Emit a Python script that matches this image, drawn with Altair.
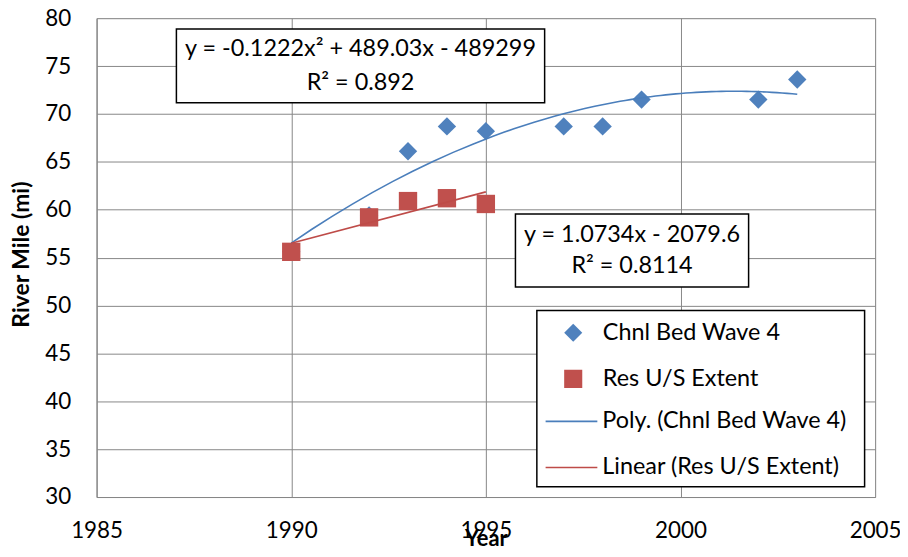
import altair as alt
import pandas as pd

# ---- data ----
wave_years = [1990, 1992, 1993, 1994, 1995, 1997, 1998, 1999, 2002, 2003]
wave_miles = [55.6, 59.4, 66.1, 68.7, 68.2, 68.7, 68.7, 71.5, 71.5, 73.6]
res_years = [1990, 1992, 1993, 1994, 1995]
res_miles = [55.6, 59.2, 60.9, 61.2, 60.6]

point_names = ["Chnl Bed Wave 4", "Res U/S Extent"]
point_colors = ["#4F81BD", "#C0504D"]
point_shapes = ["diamond", "square"]
trend_names = ["Poly. (Chnl Bed Wave 4)", "Linear (Res U/S Extent)"]
trend_colors = ["#4A7EBB", "#BE4B48"]

x_ticks = [1985, 1990, 1995, 2000, 2005]
y_ticks = [30, 35, 40, 45, 50, 55, 60, 65, 70, 75, 80]

poly_label = ["y = -0.1222x\u00b2 + 489.03x - 489299", "R\u00b2 = 0.892"]
linear_label = ["y = 1.0734x - 2079.6", "R\u00b2 = 0.8114"]

# annotation / legend frame anchors (data units)
poly_box = {"x1": 1987.05, "x2": 1996.51, "y1": 71.16, "y2": 78.86}
lin_box = {"x1": 1995.76, "x2": 2001.75, "y1": 51.93, "y2": 59.55}
legend_box = {"x1": 1996.31, "x2": 2004.73, "y1": 31.07, "y2": 49.47}

FONT = "Lato"
GRID = "#878787"
TXT = 23.5

pts = pd.DataFrame({
    "Year": wave_years + res_years,
    "Mile": wave_miles + res_miles,
    "series": [point_names[0]] * len(wave_years) + [point_names[1]] * len(res_years),
})
boxes = pd.DataFrame([poly_box, lin_box, legend_box])
poly_txt = pd.DataFrame([{"x": (poly_box["x1"] + poly_box["x2"]) / 2,
                          "y": (poly_box["y1"] + poly_box["y2"]) / 2}])
lin_txt = pd.DataFrame([{"x": (lin_box["x1"] + lin_box["x2"]) / 2,
                         "y": (lin_box["y1"] + lin_box["y2"]) / 2}])

xs = alt.Scale(domain=[1985, 2005], nice=False, zero=False)
ys = alt.Scale(domain=[30, 80], nice=False, zero=False)

x_axis = alt.Axis(values=x_ticks, format="d", title="Year", grid=True,
                  gridColor=GRID, gridWidth=1, domainColor=GRID, domainWidth=1,
                  ticks=False, labelFont=FONT, labelFontSize=22.5, labelColor="black",
                  labelPadding=23, labelFlush=False, labelOverlap=False,
                  titleFont=FONT, titleFontSize=22, titleFontWeight="bold",
                  titleColor="black", titleY=49, titleBaseline="alphabetic")
y_axis = alt.Axis(values=y_ticks, format="d", title="River Mile (mi)", grid=True,
                  gridColor=GRID, gridWidth=1, domainColor=GRID, domainWidth=1,
                  ticks=False, labelFont=FONT, labelFontSize=22.5, labelColor="black",
                  labelPadding=26, labelFlush=False, labelOverlap=False,
                  titleFont=FONT, titleFontSize=23, titleFontWeight="bold",
                  titleColor="black", titleX=-75, titleY=237, titleAngle=270,
                  titleAlign="center", titleBaseline="middle")

def pt_legend():
    return alt.Legend(title=None, orient="none", legendX=467, legendY=305,
                      direction="vertical", padding=0, rowPadding=22.3, clipHeight=22,
                      symbolSize=330, symbolStrokeWidth=0, symbolOpacity=1,
                      labelOffset=18, labelFont=FONT, labelFontSize=TXT,
                      labelColor="black", labelLimit=400)

trend_legend = alt.Legend(title=None, orient="none", legendX=450, legendY=394,
                          direction="vertical", padding=0, rowPadding=22.3, clipHeight=22,
                          symbolType="stroke", symbolSize=2700, symbolStrokeWidth=1.6,
                          labelOffset=4, labelFont=FONT, labelFontSize=TXT,
                          labelColor="black", labelLimit=400)

color_enc = alt.Color("series:N", scale=alt.Scale(domain=point_names, range=point_colors),
                      legend=pt_legend())
shape_enc = alt.Shape("series:N", scale=alt.Scale(domain=point_names, range=point_shapes),
                      legend=pt_legend())
stroke_enc = alt.Stroke("trend:N", scale=alt.Scale(domain=trend_names, range=trend_colors),
                        legend=trend_legend)

def X(field):
    return alt.X(field, scale=xs, axis=x_axis)

def Y(field):
    return alt.Y(field, scale=ys, axis=y_axis)

points = alt.Chart(pts).mark_point(filled=True, opacity=1, size=340).encode(
    x=X("Year:Q"), y=Y("Mile:Q"), color=color_enc, shape=shape_enc,
)

poly = alt.Chart(pts).transform_filter(
    alt.datum.series == point_names[0]
).transform_regression("Year", "Mile", method="poly", order=2).transform_calculate(
    trend="'" + trend_names[0] + "'"
).mark_line(strokeWidth=1.6).encode(x=X("Year:Q"), y=Y("Mile:Q"), stroke=stroke_enc)

lin = alt.Chart(pts).transform_filter(
    alt.datum.series == point_names[1]
).transform_regression("Year", "Mile", method="linear").transform_calculate(
    trend="'" + trend_names[1] + "'"
).mark_line(strokeWidth=1.6).encode(x=X("Year:Q"), y=Y("Mile:Q"), stroke=stroke_enc)

rects = alt.Chart(boxes).mark_rect(fill="white", stroke="black", strokeWidth=1.5).encode(
    x=X("x1:Q"), x2="x2:Q", y=Y("y1:Q"), y2="y2:Q",
)

t_poly = alt.Chart(poly_txt).mark_text(text=poly_label, font=FONT, fontSize=TXT,
                                       lineHeight=33.4, dy=-16.7, align="center",
                                       baseline="middle", color="black").encode(
    x=X("x:Q"), y=Y("y:Q"))
t_lin = alt.Chart(lin_txt).mark_text(text=linear_label, font=FONT, fontSize=TXT,
                                     lineHeight=31.7, dy=-15.8, align="center",
                                     baseline="middle", color="black").encode(
    x=X("x:Q"), y=Y("y:Q"))

chart = alt.layer(points, poly, lin, rects, t_poly, t_lin).properties(
    width=782, height=481, autosize="none",
    padding={"left": 89, "top": 9, "right": 25, "bottom": 50},
).configure_view(stroke=None).configure(font=FONT)

chart.save("out.html", embed_options={"renderer": "svg", "actions": False})
